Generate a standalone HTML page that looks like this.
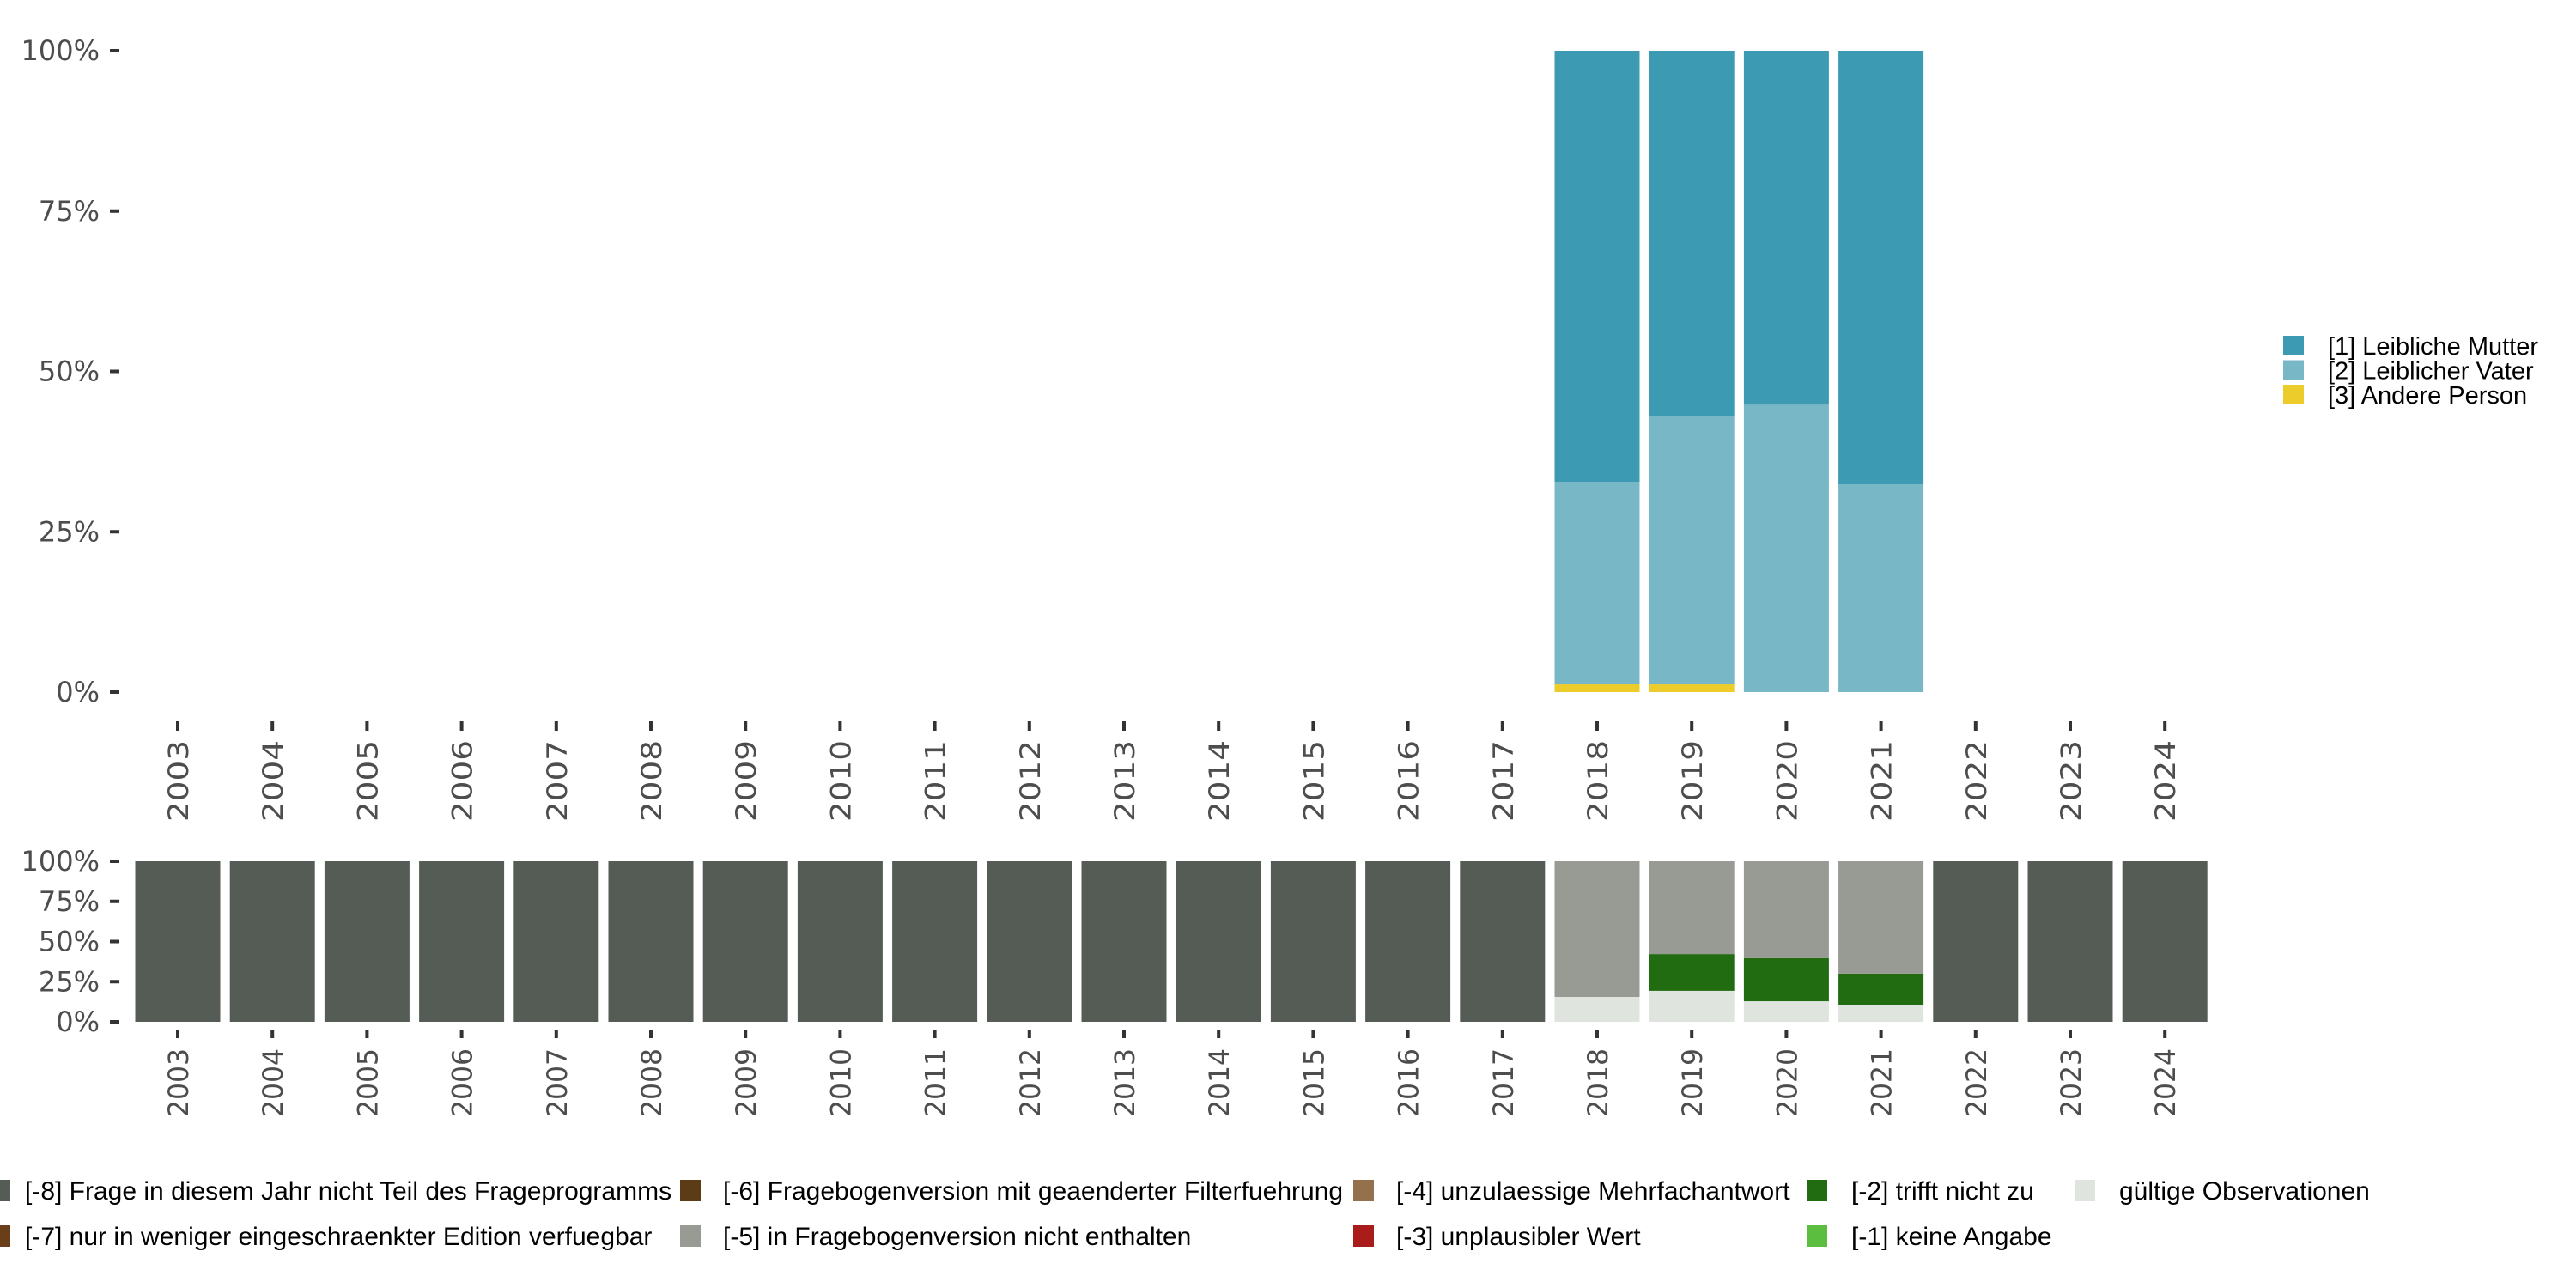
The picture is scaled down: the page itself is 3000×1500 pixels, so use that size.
<!DOCTYPE html>
<html><head><meta charset="utf-8"><style>
body{margin:0;background:#fff}
svg{display:block}
text{font-family:"Liberation Sans",sans-serif;fill:#4d4d4d}
.ax{font-family:"DejaVu Sans","Liberation Sans",sans-serif}
.lg{fill:#000}
</style></head><body>
<svg id="c" width="3000" height="1500" viewBox="0 0 3000 1500" xmlns="http://www.w3.org/2000/svg"></svg>
<script>
const years=[2003,2004,2005,2006,2007,2008,2009,2010,2011,2012,2013,2014,2015,2016,2017,2018,2019,2020,2021,2022,2023,2024];
const topYears=[2018,2019,2020,2021];
const andere=[1.2,1.2,0,0];
const vater=[31.6,41.8,44.8,32.4];
const mutter=[67.2,57.0,55.2,67.6];
const botValid=[15.5,19.3,12.8,10.7];
const botTrifft=[0,22.9,26.8,19.3];
const botNotIn=[84.5,57.8,60.4,70.0];
const yTicks=[0,25,50,75,100];
const yTickLabels=["0%","25%","50%","75%","100%"];
const topLegend=["[1] Leibliche Mutter","[2] Leiblicher Vater","[3] Andere Person"];
const topColors=["#3c9ab2","#78b7c5","#ebcc2a"];
const botLegend=["[-8] Frage in diesem Jahr nicht Teil des Frageprogramms","[-7] nur in weniger eingeschraenkter Edition verfuegbar","[-6] Fragebogenversion mit geaenderter Filterfuehrung","[-5] in Fragebogenversion nicht enthalten","[-4] unzulaessige Mehrfachantwort","[-3] unplausibler Wert","[-2] trifft nicht zu","[-1] keine Angabe","gültige Observationen"];
const botColors=["#545c55","#6b3e1a","#5c3b17","#979b94","#95704c","#a91c1a","#216c10","#5bbe3e","#e0e4df"];

const svg=document.getElementById('c');
const NS="http://www.w3.org/2000/svg";
function el(t,a,txt){const e=document.createElementNS(NS,t);for(const k in a)e.setAttribute(k,a[k]);if(txt!==undefined)e.textContent=txt;svg.appendChild(e);return e;}
const xC=y=>207+(years.indexOf(y))*110.2;
const BW=99;
const yTop=v=>806-v/100*747;
const yBot=v=>1190-v/100*187;

// top axis
yTicks.forEach((t,i)=>{
  const tk=el('rect',{x:128,y:yTop(t)-2,width:11,height:4,fill:'#333'});
  
  
  const l=el('text',{x:116,y:yTop(t)+11,'text-anchor':'end','font-size':32,class:'ax'},yTickLabels[i]);
  
  
});
years.forEach(y=>{
  const tk=el('rect',{x:xC(y)-2,y:840,width:4,height:11,fill:'#333'});
  
  
  const l=el('text',{x:0,y:0,'text-anchor':'end','font-size':32,class:'ax',textLength:95,lengthAdjust:'spacingAndGlyphs',transform:`translate(${xC(y)+12},862) rotate(-90)`},String(y));
  
  
});
// top bars
topYears.forEach((y,i)=>{
  const segs=[[andere[i],topColors[2],'andere'],[vater[i],topColors[1],'vater'],[mutter[i],topColors[0],'mutter']];
  let base=0;
  segs.forEach(s=>{
    if(s[0]>0){
      const r=el('rect',{x:xC(y)-BW/2,y:yTop(base+s[0]),width:BW,height:yTop(base)-yTop(base+s[0]),fill:s[1]});
      
      
    }
    base+=s[0];
  });
});
// top legend
topLegend.forEach((t,i)=>{
  const r=el('rect',{x:2659,y:391+i*28.5,width:24,height:23,fill:topColors[i]});
  
  
  const l=el('text',{x:2711,y:413+i*28.5,class:'lg','font-size':29},t);
  
  
});

// bottom axis
yTicks.forEach((t,i)=>{
  const tk=el('rect',{x:128,y:yBot(t)-2,width:11,height:4,fill:'#333'});
  
  
  const l=el('text',{x:116,y:yBot(t)+11,'text-anchor':'end','font-size':32,class:'ax'},yTickLabels[i]);
  
  
});
years.forEach(y=>{
  const tk=el('rect',{x:xC(y)-2,y:1200,width:4,height:9,fill:'#333'});
  
  
  const l=el('text',{x:0,y:0,'text-anchor':'end','font-size':32,class:'ax',textLength:80,lengthAdjust:'spacingAndGlyphs',transform:`translate(${xC(y)+12},1221) rotate(-90)`},String(y));
  
  
});
// bottom bars
years.forEach(y=>{
  const i=topYears.indexOf(y);
  if(i<0){
    const r=el('rect',{x:xC(y)-BW/2,y:yBot(100),width:BW,height:yBot(0)-yBot(100),fill:botColors[0]});
    
    
  } else {
    const segs=[[botValid[i],botColors[8],'valid'],[botTrifft[i],botColors[6],'trifft-nicht-zu'],[botNotIn[i],botColors[3],'not-in-version']];
    let base=0;
    segs.forEach(s=>{
      if(s[0]>0){
        const r=el('rect',{x:xC(y)-BW/2,y:yBot(base+s[0]),width:BW,height:yBot(base)-yBot(base+s[0]),fill:s[1]});
        
        
      }
      base+=s[0];
    });
  }
});
// bottom legend (column-major, 2 rows)
const colSq=[-12,792,1576,2104,2416];
const colTx=[29,842,1626,2156,2468];
botLegend.forEach((t,i)=>{
  const c=Math.floor(i/2), rr=i%2;
  const r=el('rect',{x:colSq[c],y:1374+rr*53,width:24,height:25,fill:botColors[i]});
  
  
  const l=el('text',{x:colTx[c],y:1397+rr*53,class:'lg','font-size':30},t);
  
  
});
</script>
</body></html>
